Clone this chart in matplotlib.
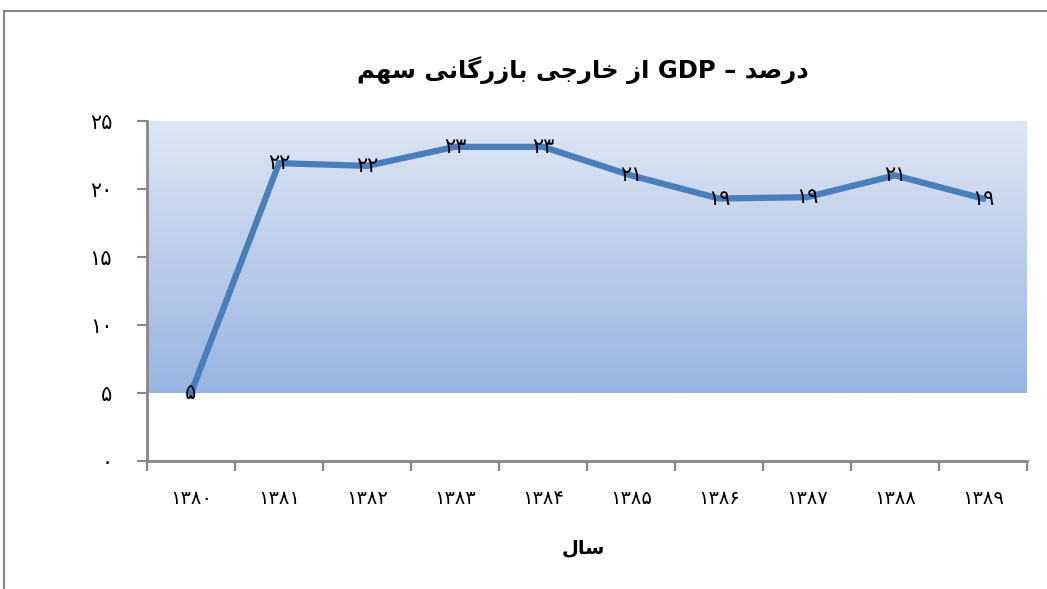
import matplotlib
matplotlib.use('Agg')
import matplotlib.pyplot as plt
from matplotlib.colors import LinearSegmentedColormap
from matplotlib.lines import Line2D
import numpy as np

years = ['۱۳۸۰', '۱۳۸۱', '۱۳۸۲', '۱۳۸۳', '۱۳۸۴', '۱۳۸۵', '۱۳۸۶', '۱۳۸۷', '۱۳۸۸', '۱۳۸۹']
share = [5.0, 21.9, 21.7, 23.1, 23.1, 21.0, 19.3, 19.4, 21.0, 19.3]
point_labels = ['۵', '۲۲', '۲۲', '۲۳', '۲۳', '۲۱', '۱۹', '۱۹', '۲۱', '۱۹']
y_ticks = [0, 5, 10, 15, 20, 25]
y_tick_labels = ['۰', '۵', '۱۰', '۱۵', '۲۰', '۲۵']
title_words = ['سهم', 'بازرگانی', 'خارجی', 'از', 'GDP', '–', 'درصد']
x_title = 'سال'

# presentation forms: isolated, final, initial, medial (None = right-joining only)
forms = {
    'ا': ('\uFE8D', '\uFE8E', None, None),
    'ب': ('\uFE8F', '\uFE90', '\uFE91', '\uFE92'),
    'ج': ('\uFE9D', '\uFE9E', '\uFE9F', '\uFEA0'),
    'خ': ('\uFEA5', '\uFEA6', '\uFEA7', '\uFEA8'),
    'د': ('\uFEA9', '\uFEAA', None, None),
    'ر': ('\uFEAD', '\uFEAE', None, None),
    'ز': ('\uFEAF', '\uFEB0', None, None),
    'س': ('\uFEB1', '\uFEB2', '\uFEB3', '\uFEB4'),
    'ص': ('\uFEB9', '\uFEBA', '\uFEBB', '\uFEBC'),
    'ل': ('\uFEDD', '\uFEDE', '\uFEDF', '\uFEE0'),
    'م': ('\uFEE1', '\uFEE2', '\uFEE3', '\uFEE4'),
    'ن': ('\uFEE5', '\uFEE6', '\uFEE7', '\uFEE8'),
    'ه': ('\uFEE9', '\uFEEA', '\uFEEB', '\uFEEC'),
    'گ': ('\uFB92', '\uFB93', '\uFB94', '\uFB95'),
    'ی': ('\uFBFC', '\uFBFD', '\uFBFE', '\uFBFF'),
}


def shape(word):
    # matplotlib has no Arabic shaping, so pick joined forms and lay out right-to-left
    if not any(c in forms for c in word):
        return word
    out = []
    for i, c in enumerate(word):
        f = forms.get(c)
        if f is None:
            out.append(c)
            continue
        prev = word[i - 1] if i > 0 else None
        nxt = word[i + 1] if i + 1 < len(word) else None
        join_prev = prev in forms and forms[prev][2] is not None
        join_next = nxt in forms and f[2] is not None
        if join_prev and join_next:
            out.append(f[3])
        elif join_prev:
            out.append(f[1])
        elif join_next:
            out.append(f[2])
        else:
            out.append(f[0])
    return ''.join(reversed(out))


plt.rcParams['font.family'] = ['DejaVu Sans']

fig = plt.figure(figsize=(10.47, 5.89), dpi=100)
ax = fig.add_axes([147 / 1047, 1 - 461 / 589, 880 / 1047, 340 / 589])

x = np.arange(len(years))
cmap = LinearSegmentedColormap.from_list('bg', ['#98b4e2', '#dee6f4'])
grad = np.linspace(0, 1, 256).reshape(-1, 1)
ax.imshow(grad, cmap=cmap, origin='lower', aspect='auto',
          extent=(-0.5, len(years) - 0.5, 5, 25), zorder=0)

ax.plot(x, share, color='#4a7ebb', linewidth=4.5, solid_joinstyle='miter', zorder=2)
for xi, v, lab in zip(x, share, point_labels):
    ax.text(xi, v, lab, ha='center', va='center', fontsize=15, color='black', zorder=3)

ax.set_xlim(-0.5, len(years) - 0.5)
ax.set_ylim(0, 25)
ax.set_yticks(y_ticks)
ax.set_yticklabels(y_tick_labels, fontsize=15)
ax.set_xticks(np.arange(-0.5, len(years), 1.0))
ax.set_xticklabels([])
ax.set_xticks(x, minor=True)
ax.set_xticklabels(years, minor=True, fontsize=14)
ax.tick_params(axis='x', which='minor', length=0, pad=20)
ax.tick_params(axis='x', which='major', length=7, width=1.5, color='#868686')
ax.tick_params(axis='y', length=7, width=1.5, color='#868686', pad=18)

for s in ['top', 'right']:
    ax.spines[s].set_visible(False)
for s in ['left', 'bottom']:
    ax.spines[s].set_color('#868686')
    ax.spines[s].set_linewidth(2)

fig.text(583 / 1047, 1 - 70 / 589,
         ' '.join(shape(w) for w in title_words),
         ha='center', va='center', fontsize=17.5, fontweight='bold')
fig.text(583 / 1047, 1 - 548 / 589, shape(x_title),
         ha='center', va='center', fontsize=14, fontweight='bold')

# outer chart frame
fig.add_artist(Line2D([4 / 1047, 4 / 1047], [0, 1 - 11 / 589], transform=fig.transFigure,
                      color='#868686', linewidth=1.5))
fig.add_artist(Line2D([4 / 1047, 1], [1 - 11 / 589, 1 - 11 / 589], transform=fig.transFigure,
                      color='#868686', linewidth=1.5))

fig.savefig('out.png', dpi=100)
